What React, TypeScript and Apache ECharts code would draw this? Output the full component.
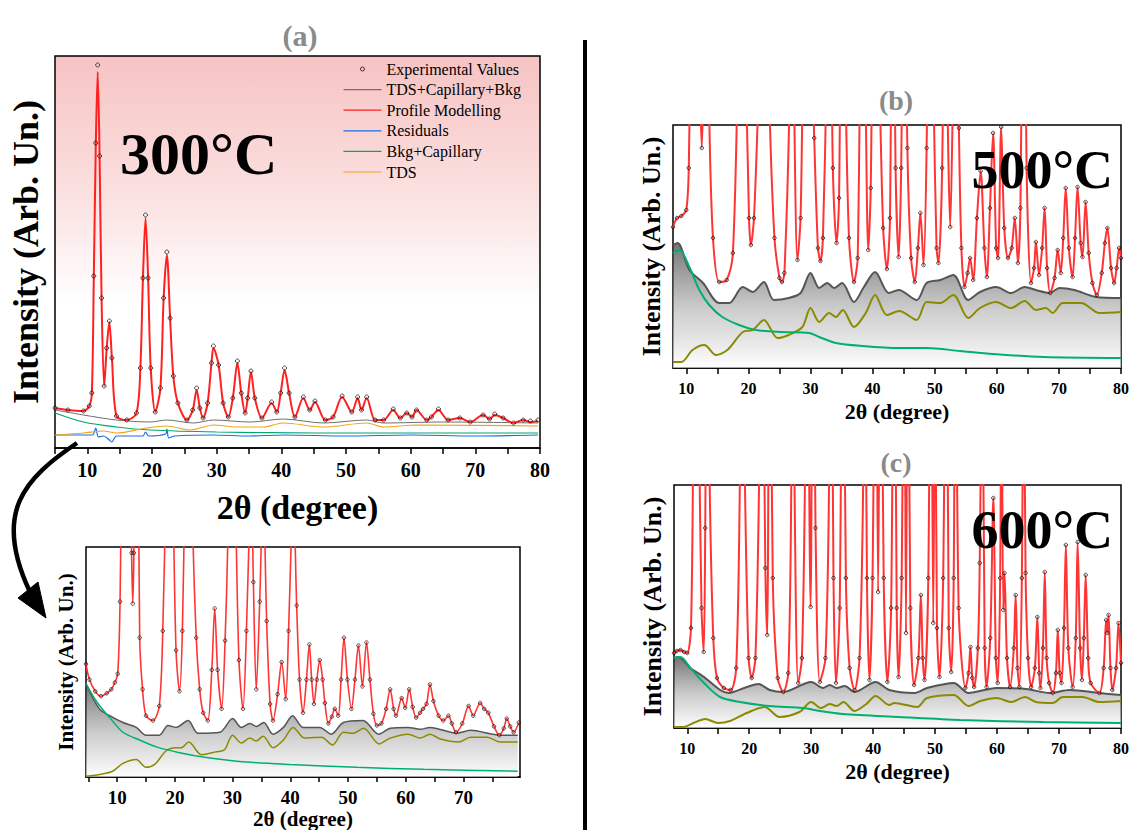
import React, { useEffect, useRef } from 'react';
import * as echarts from 'echarts';

const SERIF = "'Liberation Serif', 'Times New Roman', serif";

// ---------- Panel (a): 300°C ----------
const A_PROFILE = [[5,40],[7,38],[9.4,37],[10.3,42],[10.7,55],[11.0,170],[11.3,300],[11.6,376],[11.9,290],[12.2,150],[12.6,62],[13.0,100],[13.4,126],[13.8,90],[14.5,32],[16.1,28],[17.6,35],[18.2,80],[18.6,170],[19.0,230],[19.4,170],[19.8,80],[20.5,36],[21.3,60],[21.8,150],[22.3,193],[22.8,130],[23.3,72],[24.0,45],[25.4,28],[26.3,38],[26.9,58],[27.4,40],[27.9,30],[28.6,45],[29.2,85],[29.5,100],[30.3,83],[31.0,45],[31.8,31],[32.5,50],[33.2,85],[33.8,55],[34.4,35],[34.8,50],[35.3,76],[35.9,50],[37.0,30],[38.5,45],[39.3,36],[39.9,55],[40.5,78],[41.2,55],[42.1,31],[43.4,50],[44.4,38],[45.2,46],[46.8,28],[48.0,31],[49.4,51],[50.9,36],[51.8,50],[52.4,38],[53.2,50],[54.5,28],[55.8,28],[57.3,38],[58.4,30],[59.4,35],[60.2,31],[60.9,38],[62.5,28],[63.2,31],[64.3,38],[65.8,28],[67.6,30],[69.2,26],[71.2,33],[72.2,29],[73.0,33],[74.3,30],[75.9,25],[77.4,28],[78.5,26],[79.7,27]];
const A_EXPERIMENTAL = [[5,40],[7,38],[9.4,37],[10.3,42],[10.7,55],[11.0,172],[11.3,305],[11.6,383],[11.9,292],[12.2,150],[12.6,62],[13.0,100],[13.4,127],[13.8,90],[14.5,32],[16.1,28],[17.6,35],[18.2,80],[18.6,170],[19.0,233],[19.4,170],[19.8,80],[20.5,36],[21.3,60],[21.8,150],[22.3,196],[22.8,130],[23.3,72],[24.0,45],[25.4,28],[26.3,38],[26.9,60],[27.4,40],[27.9,30],[28.6,45],[29.2,85],[29.5,102],[30.3,83],[31.0,45],[31.8,31],[32.5,50],[33.2,87],[33.8,55],[34.4,35],[34.8,50],[35.3,77],[35.9,50],[37.0,30],[38.5,46],[39.3,36],[39.9,55],[40.5,80],[41.2,55],[42.1,31],[43.4,51],[44.4,38],[45.2,47],[46.8,28],[48.0,31],[49.4,52],[50.9,36],[51.8,51],[52.4,38],[53.2,51],[54.5,28],[55.8,28],[57.3,39],[58.4,30],[59.4,35],[60.2,31],[60.9,38],[62.5,28],[63.2,31],[64.3,39],[65.8,28],[67.6,30],[69.2,26],[71.2,33],[72.2,29],[73.0,34],[74.3,30],[75.9,25],[77.4,28],[78.5,27],[79.7,28]];
const A_TDS_CAP_BKG = [[5,38],[9.4,33],[14.5,28],[19.7,26],[22.3,28],[26.4,25],[29.5,28],[35.2,26],[40.3,29],[46.5,25],[53.2,28],[55.8,25],[65,26],[79.7,25]];
const A_RESIDUALS = [[5,13],[9,13],[10.8,13],[11.3,20],[11.7,11],[12.5,12],[13.4,8],[13.8,6],[14.5,12],[18.6,12],[19.0,16],[19.5,12],[22.1,14],[22.3,19],[22.6,10],[23.5,12],[29.5,13],[35,12],[40.5,13],[50,12],[60,13],[70,12],[79.7,13]];
const A_BKG_CAP = [[5,35],[9.4,26],[14.5,21],[19.7,18],[30,16],[45.5,15],[79.7,15]];
const A_TDS = [[5,13],[9.4,15],[12.5,17],[14.5,15],[19.2,20],[22.3,22],[25.9,18],[29.5,23],[33.1,21],[37.2,21],[40.3,25],[46.5,21],[53.2,25],[55.8,21],[60.9,23],[79.7,22]];

// ---------- Inset of (a): 300°C zoomed ----------
const Z_PROFILE = [[4.6,116],[5.2,100],[6.2,88],[7.2,83],[8.2,86],[9.0,90],[9.6,97],[10.1,106],[10.5,180],[10.9,400],[11.6,1200],[12.2,400],[12.5,230],[12.7,178],[12.9,230],[13.4,500],[13.9,143],[14.4,90],[15.0,63],[16.2,58],[17.3,73],[17.9,150],[18.4,300],[19.0,800],[19.7,300],[20.2,130],[20.8,88],[21.3,150],[21.7,300],[22.3,700],[23.1,260],[23.7,143],[24.3,90],[24.9,66],[25.7,58],[26.4,110],[26.9,173],[27.4,110],[28.1,70],[28.7,140],[29.2,250],[29.5,420],[30.4,300],[31.1,120],[31.8,70],[32.4,150],[33.0,280],[33.2,320],[33.6,200],[34.1,90],[34.7,180],[35.3,300],[35.9,160],[36.5,75],[37.0,58],[37.8,85],[38.5,118],[39.2,80],[39.7,150],[40.2,250],[40.5,300],[41.1,176],[41.6,100],[42.2,66],[42.8,100],[43.3,136],[43.7,100],[44.1,75],[44.6,100],[45.1,120],[45.6,100],[46.0,76],[46.6,55],[47.2,62],[47.7,70],[48.3,63],[48.8,100],[49.3,143],[49.9,100],[50.6,70],[51.2,100],[51.8,135],[52.5,93],[53.2,138],[53.8,100],[54.4,65],[55.0,53],[55.8,55],[56.6,70],[57.3,90],[57.9,70],[58.3,63],[59.3,81],[59.9,71],[60.6,90],[61.2,72],[61.8,61],[62.5,66],[63.0,70],[63.6,75],[64.2,95],[64.8,78],[65.7,63],[66.5,58],[67.4,63],[68.0,55],[68.7,46],[69.8,55],[70.9,73],[71.7,63],[72.9,76],[73.6,70],[74.3,66],[75.3,52],[76.2,43],[77.0,50],[77.5,60],[78.1,52],[78.7,46],[79.6,56]];
const Z_TDS_CAP_BKG = [[4.6,96],[6.9,70],[8.7,63],[11.0,56],[13.3,51],[15.0,43],[17.3,43],[18.8,53],[20.2,51],[22.3,58],[24.0,45],[27.8,46],[30.0,60],[31.5,51],[33.0,55],[34.1,52],[35.4,56],[37.0,44],[38.8,51],[40.4,63],[42.2,51],[45.1,51],[47.1,44],[49.2,56],[52.6,58],[55.3,44],[57.3,50],[60.4,51],[62.5,49],[64.2,51],[68.9,45],[71.2,48],[76.4,43],[79.4,43]];
const Z_TDS = [[4.6,1],[7.2,3],[9.2,6],[11.0,14],[13.3,18],[15.0,10],[16.5,13],[18.5,27],[20.2,30],[21.1,30],[22.4,36],[24.6,23],[27.2,26],[28.6,28],[30.0,43],[31.5,35],[33.0,40],[34.1,37],[35.3,42],[37.0,30],[38.8,38],[40.5,51],[42.5,40],[45.4,41],[47.3,33],[49.2,46],[50.9,45],[52.7,50],[55.4,34],[57.3,40],[60.4,44],[62.5,40],[64.2,44],[66.0,39],[69.2,36],[71.2,41],[74.1,41],[76.4,36],[79.4,36]];
const Z_BKG_CAP = [[4.6,96],[6.6,76],[8.7,61],[11.0,46],[13.9,38],[16.8,31],[20.8,25],[25.5,20],[31.2,16],[39.9,13],[51.5,10],[63.1,8],[79.4,6]];

// ---------- Panel (b): 500°C ----------
const B_PROFILE = [[7.86,141],[8.5,150],[9.2,152],[10.0,158],[10.4,200],[10.9,400],[11.5,500],[12.1,300],[12.5,220],[12.8,300],[13.2,500],[13.7,250],[14.3,130],[15.3,86],[16.5,88],[17.5,115],[18.3,300],[18.9,500],[19.6,300],[20.1,150],[20.4,123],[20.9,150],[21.6,270],[22.6,500],[23.4,260],[24.2,130],[25.0,90],[25.4,86],[25.8,95],[26.6,260],[27.0,500],[27.4,250],[27.9,108],[28.4,150],[29.2,400],[29.8,400],[30.6,230],[31.2,120],[31.6,107],[32.0,130],[32.6,300],[33.0,500],[33.6,200],[34.2,125],[34.6,170],[35.1,500],[35.6,300],[36.2,130],[37.0,86],[37.6,110],[38.4,500],[38.9,260],[39.3,118],[39.7,180],[40.3,500],[41.0,320],[41.7,140],[42.3,99],[42.8,150],[43.2,500],[43.7,200],[44.2,111],[44.6,200],[45.1,500],[45.6,220],[46.2,110],[46.8,86],[47.3,120],[47.7,155],[48.2,103],[48.7,220],[49.2,500],[49.8,280],[50.3,120],[50.6,105],[51.2,200],[51.7,500],[52.1,250],[52.5,141],[52.9,260],[53.4,500],[53.9,240],[54.3,120],[54.8,81],[55.3,95],[55.7,110],[56.2,88],[56.8,150],[57.4,197],[58.0,120],[58.4,91],[58.9,160],[59.4,235],[59.9,120],[60.2,110],[60.7,241],[61.2,140],[61.8,110],[62.4,120],[62.9,150],[63.4,105],[63.8,160],[64.3,500],[64.8,200],[65.5,85],[66.0,100],[66.3,126],[66.8,93],[67.3,120],[67.7,160],[68.1,100],[68.6,75],[69.3,90],[69.8,118],[70.3,95],[70.7,130],[71.1,180],[71.6,120],[72.2,91],[72.6,130],[73.0,181],[73.5,125],[73.8,111],[74.3,166],[74.8,115],[75.4,85],[76.1,73],[76.9,95],[77.4,125],[77.8,140],[78.4,100],[78.9,85],[79.3,100],[79.7,120],[80,110]];
const B_TDS_CAP_BKG = [[7.86,123],[8.6,125],[10.5,98],[12.7,85],[15.3,65],[16.9,65],[19.1,81],[20.7,76],[22.5,86],[24.1,68],[26.5,70],[28.4,75],[30.0,95],[31.4,80],[32.7,85],[33.8,80],[35.1,85],[37.0,66],[38.6,81],[40.4,96],[42.6,75],[44.2,78],[47.1,68],[48.7,85],[50.9,88],[53.0,93],[55.4,68],[57.3,76],[59.9,81],[62.3,75],[64.5,81],[66.3,78],[68.5,75],[70.1,80],[72.5,78],[76.0,71],[80,70]];
const B_TDS = [[7.86,6],[9.2,6],[11.0,18],[12.9,23],[14.8,13],[16.6,18],[19.1,36],[20.7,38],[22.5,48],[24.7,30],[26.5,33],[28.7,41],[30.0,60],[31.4,46],[33.0,55],[34.1,51],[35.2,58],[37.0,41],[38.9,55],[40.4,73],[42.3,53],[44.3,57],[47.1,48],[48.7,66],[50.9,65],[53.0,73],[55.4,50],[57.3,60],[59.9,66],[62.3,60],[64.5,67],[66.3,58],[67.9,60],[69.0,55],[70.6,65],[73.6,65],[76.5,55],[80,56]];
const B_BKG_CAP = [[7.86,115],[8.9,118],[10.5,101],[12.1,78],[13.7,63],[15.8,51],[18.5,43],[21.2,38],[25.5,36],[29.8,35],[31.4,31],[34.1,25],[38.4,22],[44.2,20],[48.7,20],[54.1,17],[59.4,14],[67.5,11],[80,10]];

// ---------- Panel (c): 600°C ----------
const C_PROFILE = [[7.86,75],[8.3,77],[8.9,78],[9.5,76],[10.0,75],[10.6,100],[11.0,300],[11.45,500],[11.9,300],[12.3,120],[12.66,76],[12.9,200],[13.2,500],[13.6,250],[14.2,90],[14.8,50],[15.9,40],[17.0,38],[17.9,60],[18.5,250],[18.9,500],[19.3,250],[19.9,70],[20.4,50],[21.0,70],[21.6,250],[22.0,500],[22.6,160],[22.9,93],[23.3,500],[23.8,150],[24.6,50],[25.5,36],[26.3,55],[26.8,250],[27.0,500],[27.3,250],[27.9,45],[28.5,70],[29.0,250],[29.3,500],[29.9,121],[30.3,500],[30.7,200],[31.4,46],[32.3,70],[32.9,250],[33.2,500],[33.6,150],[34.0,45],[34.6,120],[35.1,500],[35.6,150],[36.2,60],[37.0,38],[37.8,70],[38.4,250],[38.6,500],[39.0,150],[39.4,48],[39.9,150],[40.4,500],[40.8,136],[41.2,500],[41.7,150],[42.3,46],[42.9,120],[43.4,500],[43.8,120],[44.1,51],[44.6,150],[45.0,500],[45.3,95],[45.6,500],[46.0,120],[46.6,43],[47.3,70],[47.7,133],[48.0,70],[48.3,48],[48.9,150],[49.3,500],[49.7,105],[50.0,400],[50.3,100],[50.7,51],[51.3,150],[51.8,500],[52.2,100],[52.6,56],[53.0,150],[53.3,500],[53.8,120],[54.9,40],[55.4,55],[55.7,81],[56.0,50],[56.3,41],[56.9,80],[57.2,165],[57.6,400],[58.0,80],[58.3,41],[58.9,90],[59.4,230],[59.8,70],[60.1,45],[60.5,150],[60.7,400],[61.0,118],[61.2,155],[61.6,70],[62.1,41],[62.7,80],[63.0,133],[63.3,60],[63.6,41],[64.0,150],[64.3,400],[64.6,155],[65.0,70],[65.5,41],[66.1,60],[66.5,111],[66.8,55],[67.0,40],[67.4,80],[67.7,156],[68.0,70],[68.4,45],[69.0,35],[69.5,55],[69.8,98],[70.1,55],[70.4,45],[70.8,100],[71.1,183],[71.5,80],[72.2,41],[72.7,90],[73.0,186],[73.4,80],[73.7,48],[74.0,90],[74.3,153],[74.7,70],[75.1,45],[76.5,35],[77.2,60],[77.6,108],[77.8,95],[78.0,113],[78.3,60],[78.6,38],[79.2,60],[79.6,105],[80,65]];
const C_TDS_CAP_BKG = [[7.86,70],[8.6,71],[10.5,60],[12.7,51],[15.3,38],[16.7,35],[19.6,41],[21.5,44],[23.3,38],[25.5,36],[30.0,46],[31.9,40],[33.0,43],[34.1,40],[35.4,42],[37.0,36],[40.4,46],[42.6,38],[46.6,35],[48.7,40],[53.0,45],[55.4,35],[59.9,40],[64.7,39],[68.5,35],[71.7,38],[76.5,35],[80,33]];
const C_TDS = [[7.86,1],[9.4,1],[11.0,5],[12.9,9],[15.0,5],[16.9,7],[19.6,15],[22.5,21],[24.9,11],[28.1,16],[30.0,26],[31.6,20],[33.0,24],[34.1,22],[35.2,26],[37.0,17],[38.9,24],[40.4,32],[42.6,23],[43.4,25],[47.1,21],[48.7,30],[53.0,33],[55.4,22],[57.3,27],[59.9,30],[62.3,26],[64.5,31],[66.3,26],[69.0,25],[70.6,31],[73.8,31],[76.5,26],[80,27]];
const C_BKG_CAP = [[7.86,70],[8.9,71],[10.5,60],[12.7,45],[15.3,31],[18.5,26],[23.3,22],[28.7,20],[31.4,17],[35.1,14],[44.2,11],[54.1,8],[67.5,6],[80,5]];

// ---------- Axis ticks / labels ----------
const TICKS_5_80 = [5,10,15,20,25,30,35,40,45,50,55,60,65,70,75,80];
const TICKS_10_80 = [10,15,20,25,30,35,40,45,50,55,60,65,70,75,80];
const TICKS_5_75 = [5,10,15,20,25,30,35,40,45,50,55,60,65,70,75];
const LABELS_10_80 = [10,20,30,40,50,60,70,80];
const LABELS_10_70 = [10,20,30,40,50,60,70];

const LEGEND_NAMES = ['Experimental Values','TDS+Capillary+Bkg','Profile Modelling','Residuals','Bkg+Capillary','TDS'];
const LEGEND_COLORS = ['#111111','#6e6e6e','#ff2020','#1a6fe8','#00a86b','#f4a418'];

const Y_NAME = 'Intensity (Arb. Un.)';
const X_NAME = '2θ (degree)';

const LINE_ICON = 'path://M0,0L0.01,0M38,12L38.01,12M0,5.4L38,5.4L38,6.6L0,6.6Z';
const DOT_ICON = 'path://M0,0L0.01,0M38,12L38.01,12M17,6a2,2 0 1,0 4,0a2,2 0 1,0 -4,0';

function xAxis(gridIndex: number, min: number, max: number, ticks: number[], labels: number[], labelSize: number, labelMargin: number, nameSize: number, nameGap: number, tickLen: number) {
  return {
    type: 'value', gridIndex, min, max,
    axisLine: { show: true, onZero: false, lineStyle: { color: '#000', width: 1.5 } },
    axisTick: { show: true, inside: false, length: tickLen, customValues: ticks, lineStyle: { color: '#000', width: 1.5 } },
    axisLabel: { show: true, customValues: labels, margin: labelMargin, fontFamily: SERIF, fontWeight: 'bold', fontSize: labelSize, color: '#000' },
    splitLine: { show: false },
    name: X_NAME, nameLocation: 'middle', nameGap,
    nameTextStyle: { fontFamily: SERIF, fontWeight: 'bold', fontSize: nameSize, color: '#000' },
  };
}
function yAxis(gridIndex: number, max: number, nameSize: number, nameGap: number) {
  return {
    type: 'value', gridIndex, min: 0, max,
    axisLine: { show: false }, axisTick: { show: false }, axisLabel: { show: false }, splitLine: { show: false },
    name: Y_NAME, nameLocation: 'middle', nameRotate: 90, nameGap,
    nameTextStyle: { fontFamily: SERIF, fontWeight: 'bold', fontSize: nameSize, color: '#000' },
  };
}
function line(name: string, data: number[][], color: string, width: number, idx: number, z = 2, extra: any = {}) {
  return { type: 'line', name, data, xAxisIndex: idx, yAxisIndex: idx, symbol: 'none', showSymbol: false, smooth: 0.3, clip: true, z,
    lineStyle: { color, width }, itemStyle: { color }, ...extra };
}
function dots(name: string, data: number[][], idx: number, size: number) {
  return { type: 'scatter', name, data, xAxisIndex: idx, yAxisIndex: idx, symbol: 'circle', symbolSize: size, clip: true, z: 5,
    itemStyle: { color: 'rgba(0,0,0,0)', borderColor: '#111', borderWidth: 0.9 } };
}
const grayArea = () => ({
  areaStyle: {
    origin: 'start',
    color: new echarts.graphic.LinearGradient(0, 0, 0, 1, [
      { offset: 0, color: 'rgba(45,45,45,0.95)' },
      { offset: 0.55, color: 'rgba(170,170,170,0.8)' },
      { offset: 1, color: 'rgba(255,255,255,0.9)' },
    ]),
  },
});

export default function App() {
  const ref = useRef<HTMLDivElement>(null);
  useEffect(() => {
    if (!ref.current) return;
    const chart = echarts.init(ref.current, undefined, { renderer: 'svg' });
    const option: any = {
      animation: false,
      backgroundColor: '#fff',
      textStyle: { fontFamily: SERIF },
      grid: [
        { left: 55, top: 56, width: 485, height: 392, show: true, borderColor: '#000', borderWidth: 1.5,
          backgroundColor: new echarts.graphic.LinearGradient(0, 0, 0, 1, [
            { offset: 0, color: '#f7c3c3' }, { offset: 0.35, color: '#fbe0e0' }, { offset: 0.63, color: '#ffffff' }, { offset: 1, color: '#ffffff' },
          ]) },
        { left: 86, top: 547, width: 434, height: 236, show: true, borderColor: '#000', borderWidth: 1.5, backgroundColor: '#fff' },
        { left: 673, top: 125, width: 450, height: 243, show: true, borderColor: '#000', borderWidth: 1.5, backgroundColor: '#fff' },
        { left: 674, top: 485, width: 449, height: 243, show: true, borderColor: '#000', borderWidth: 1.5, backgroundColor: '#fff' },
      ],
      xAxis: [
        xAxis(0, 5, 80, TICKS_5_80, LABELS_10_80, 20, 12, 34, 42, 6),
        xAxis(1, 4.6, 79.8, TICKS_5_75, LABELS_10_70, 19, 11, 21, 26, 5),
        xAxis(2, 7.86, 80, TICKS_10_80, LABELS_10_80, 16, 12, 22, 32, 6),
        xAxis(3, 7.86, 80, TICKS_10_80, LABELS_10_80, 16, 12, 22, 32, 6),
      ],
      yAxis: [
        yAxis(0, 392, 36, 11),
        yAxis(1, 236, 21, 10),
        yAxis(2, 243, 26, 9),
        yAxis(3, 243, 26, 9),
      ],
      legend: {
        orient: 'vertical', left: 343, top: 61, padding: 0, itemWidth: 38, itemHeight: 12, itemGap: 4.6,
        selectedMode: false,
        textStyle: { fontFamily: SERIF, fontSize: 16, color: '#000', lineHeight: 16 },
        data: LEGEND_NAMES.map((name, i) => i === 0
          ? { name, icon: DOT_ICON, itemStyle: { color: 'rgba(0,0,0,0)', borderColor: '#111', borderWidth: 1 } }
          : { name, icon: LINE_ICON, itemStyle: { color: LEGEND_COLORS[i], borderWidth: 0 } }),
      },
      series: [
        // (a)
        line(LEGEND_NAMES[1], A_TDS_CAP_BKG, LEGEND_COLORS[1], 1, 0, 2),
        line(LEGEND_NAMES[2], A_PROFILE, LEGEND_COLORS[2], 2, 0, 4),
        line(LEGEND_NAMES[3], A_RESIDUALS, LEGEND_COLORS[3], 1.2, 0, 3),
        line(LEGEND_NAMES[4], A_BKG_CAP, LEGEND_COLORS[4], 1.2, 0, 3),
        line(LEGEND_NAMES[5], A_TDS, LEGEND_COLORS[5], 1.2, 0, 3),
        dots(LEGEND_NAMES[0], A_EXPERIMENTAL, 0, 4),
        // inset
        line('z-gray', Z_TDS_CAP_BKG, '#555', 1.5, 1, 2, grayArea()),
        line('z-tds', Z_TDS, '#8c8a00', 1.5, 1, 3),
        line('z-bkg', Z_BKG_CAP, '#00b070', 1.5, 1, 3),
        line('z-prof', Z_PROFILE, '#ff3535', 1.6, 1, 4),
        dots('z-exp', Z_PROFILE, 1, 3.5),
        // (b)
        line('b-gray', B_TDS_CAP_BKG, '#555', 2, 2, 2, grayArea()),
        line('b-tds', B_TDS, '#8c8a00', 2, 2, 3),
        line('b-bkg', B_BKG_CAP, '#00b070', 2, 2, 3),
        line('b-prof', B_PROFILE, '#ff3535', 2, 2, 4),
        dots('b-exp', B_PROFILE, 2, 3.5),
        // (c)
        line('c-gray', C_TDS_CAP_BKG, '#555', 2, 3, 2, grayArea()),
        line('c-tds', C_TDS, '#8c8a00', 2, 3, 3),
        line('c-bkg', C_BKG_CAP, '#00b070', 2, 3, 3),
        line('c-prof', C_PROFILE, '#ff3535', 2, 3, 4),
        dots('c-exp', C_PROFILE, 3, 3.5),
      ],
      graphic: [
        { type: 'text', x: 300, y: 35, style: { text: '(a)', font: `bold 30px ${SERIF}`, fill: '#8a8a8a', align: 'center', verticalAlign: 'middle' } },
        { type: 'text', x: 896, y: 100, style: { text: '(b)', font: `bold 28px ${SERIF}`, fill: '#8a8a8a', align: 'center', verticalAlign: 'middle' } },
        { type: 'text', x: 896, y: 462, style: { text: '(c)', font: `bold 28px ${SERIF}`, fill: '#8a8a8a', align: 'center', verticalAlign: 'middle' } },
        { type: 'text', x: 120, y: 154, z: 10, style: { text: '300°C', font: `bold 60px ${SERIF}`, fill: '#000', align: 'left', verticalAlign: 'middle' } },
        { type: 'text', x: 1113, y: 170, z: 10, style: { text: '500°C', font: `bold 54px ${SERIF}`, fill: '#000', align: 'right', verticalAlign: 'middle' } },
        { type: 'text', x: 1113, y: 530, z: 10, style: { text: '600°C', font: `bold 54px ${SERIF}`, fill: '#000', align: 'right', verticalAlign: 'middle' } },
        { type: 'line', shape: { x1: 585, y1: 40, x2: 585, y2: 830 }, style: { stroke: '#000', lineWidth: 4 } },
        { type: 'bezierCurve', shape: { x1: 77, y1: 443, cpx1: 25, cpy1: 478, cpx2: -8, cpy2: 512, x2: 30, y2: 592 }, style: { stroke: '#000', lineWidth: 4.5, fill: 'none' } },
        { type: 'polygon', shape: { points: [[18, 598], [38, 582], [46, 618]] }, style: { fill: '#000', stroke: '#000', lineWidth: 1 } },
      ],
    };
    chart.setOption(option);
    return () => chart.dispose();
  }, []);
  return <div ref={ref} style={{ position: 'absolute', left: 0, top: 0, width: 1132, height: 830 }} />;
}
